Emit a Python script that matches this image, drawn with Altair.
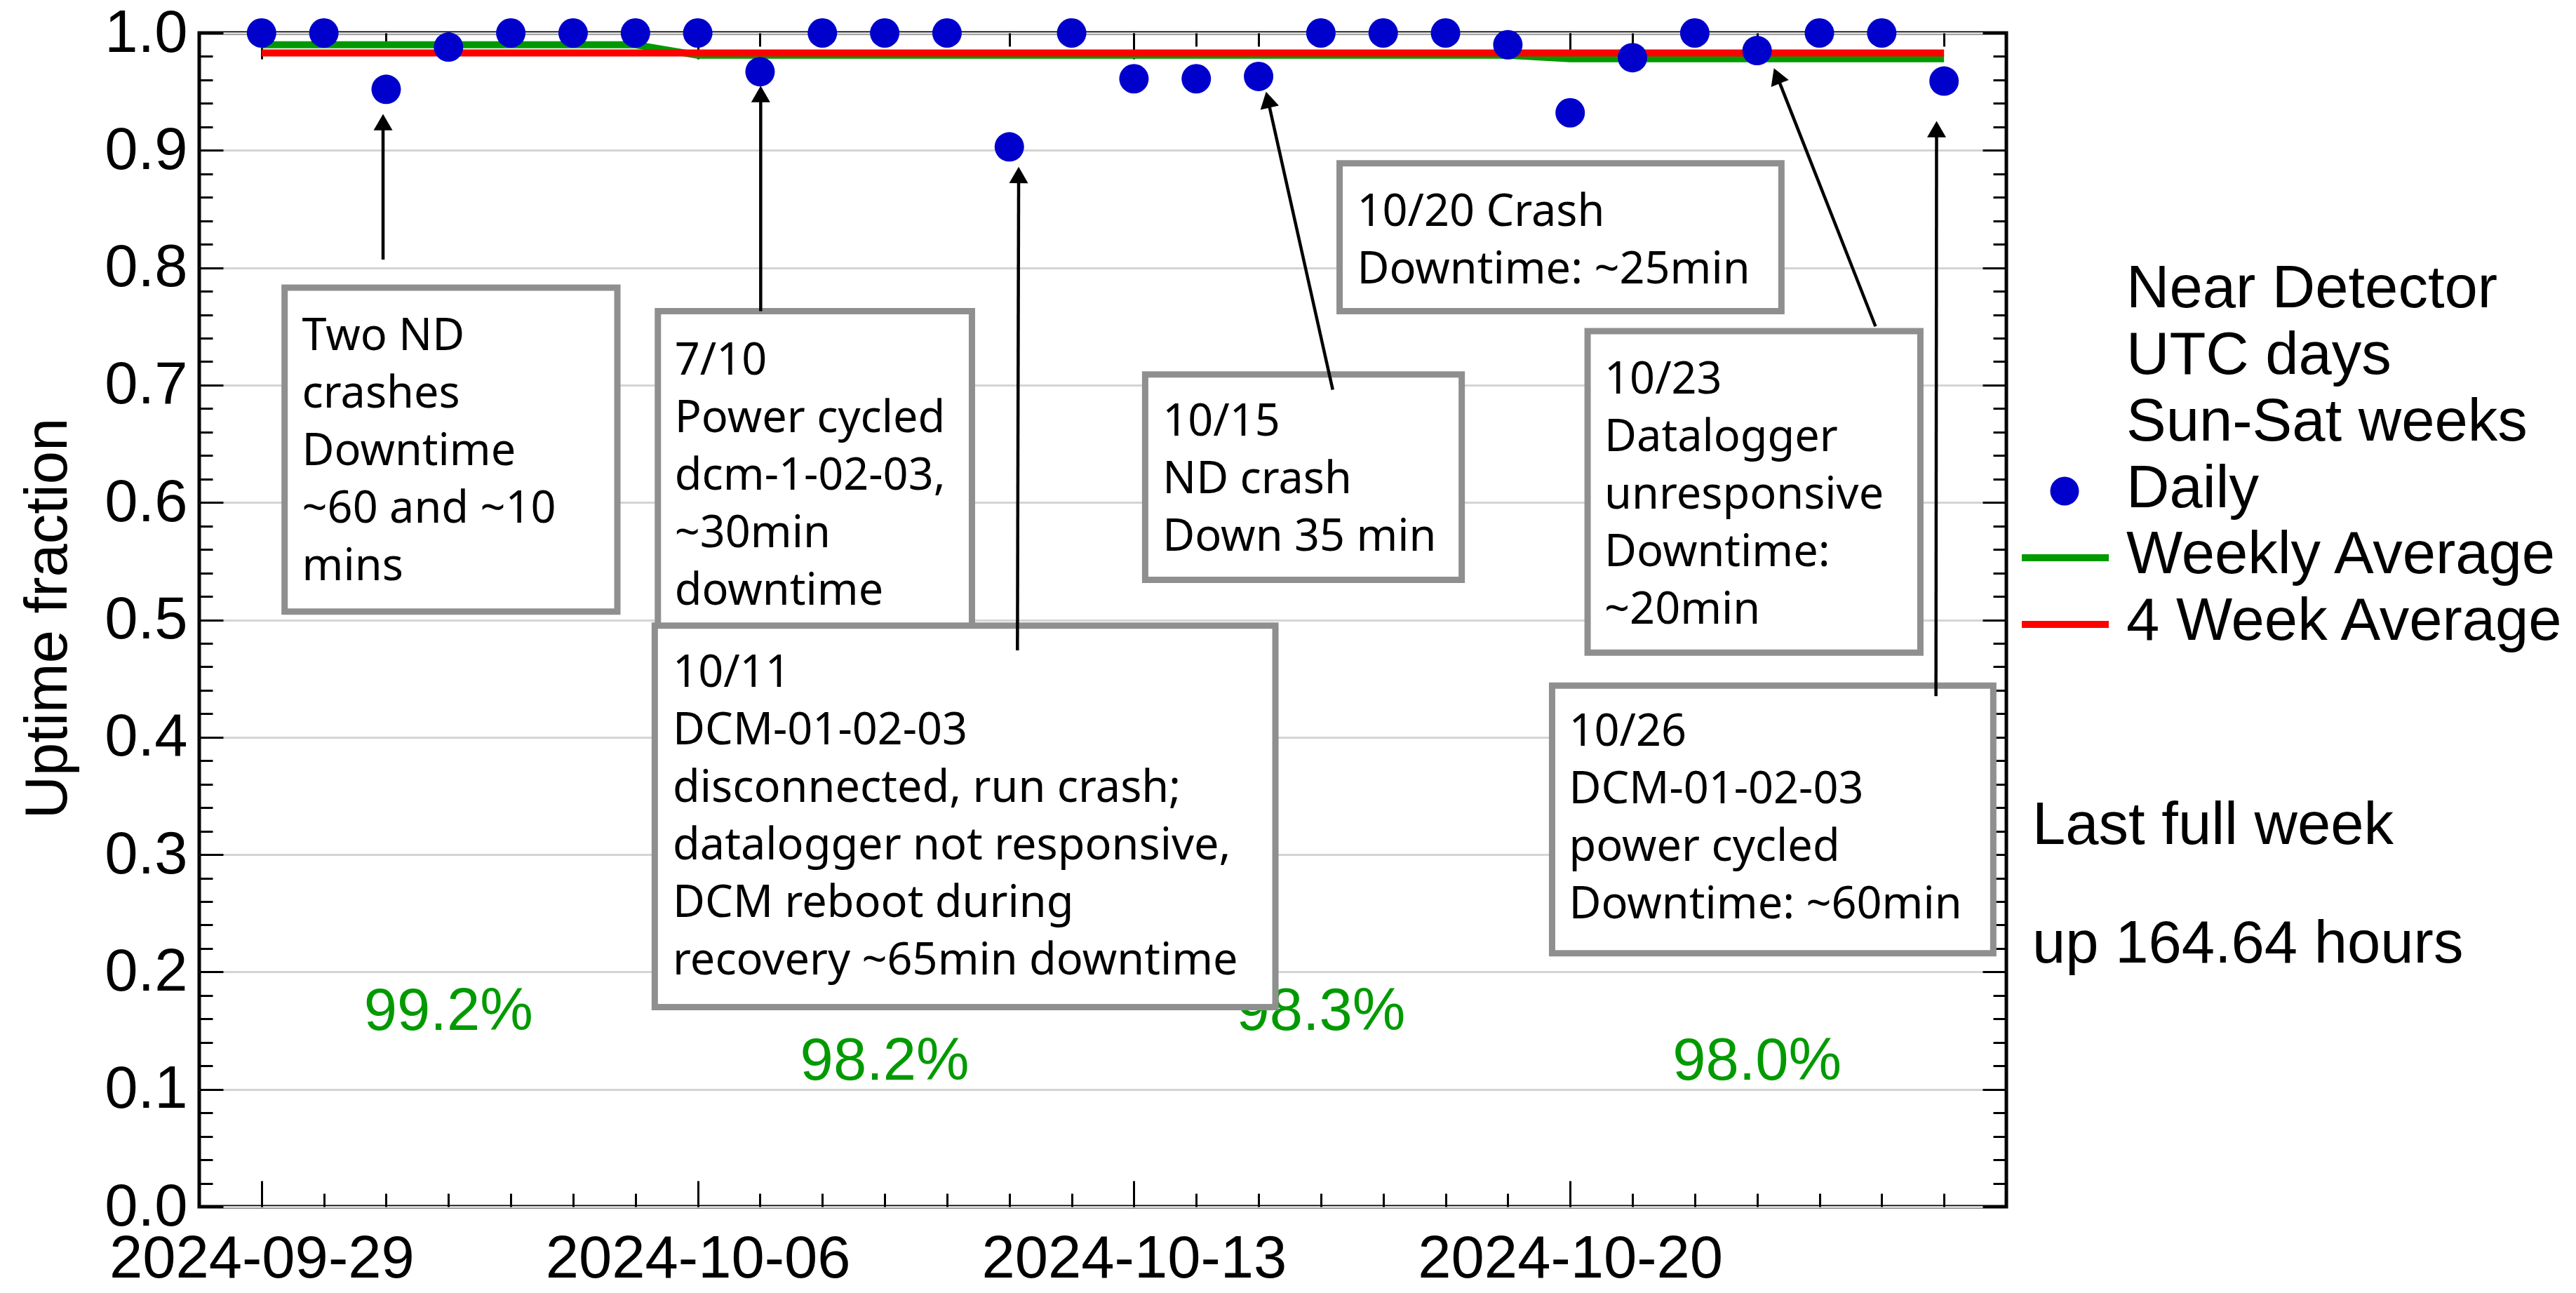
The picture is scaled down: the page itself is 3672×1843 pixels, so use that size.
import math
import altair as alt
import pandas as pd

# ------------------------------------------------------------------ data
day_dates = [d.strftime("%Y-%m-%d") for d in pd.date_range("2024-09-29", "2024-10-26", freq="D")]
daily_uptime = [1.000, 1.000, 0.952, 0.988, 1.000, 1.000, 1.000,
                1.000, 0.967, 1.000, 1.000, 1.000, 0.903, 1.000,
                0.961, 0.961, 0.963, 1.000, 1.000, 1.000, 0.990,
                0.932, 0.979, 1.000, 0.985, 1.000, 1.000, 0.959]
week_start_dates = ["2024-09-29", "2024-10-06", "2024-10-13", "2024-10-20"]
weekly_average = [0.990, 0.981, 0.981, 0.978]
weekly_percent_text = ["99.2%", "98.2%", "98.3%", "98.0%"]
four_week_average = 0.983
y_major_ticks = [0.0, 0.1, 0.2, 0.3, 0.4, 0.5, 0.6, 0.7, 0.8, 0.9, 1.0]
y_minor_ticks = [round(i * 0.02, 2) for i in range(51)]
legend_header = ["Near Detector", "UTC days", "Sun-Sat weeks"]
legend_entries = ["Daily", "Weekly Average", "4 Week Average"]
summary_text = ["Last full week", "up 164.64 hours"]
note_texts = [
    ["Two ND", "crashes", "Downtime", "~60 and ~10", "mins"],
    ["7/10", "Power cycled", "dcm-1-02-03,", "~30min", "downtime"],
    ["10/11", "DCM-01-02-03", "disconnected, run crash;", "datalogger not responsive,",
     "DCM reboot during", "recovery ~65min downtime"],
    ["10/15", "ND crash", "Down 35 min"],
    ["10/20 Crash", "Downtime: ~25min"],
    ["10/23", "Datalogger", "unresponsive", "Downtime:", "~20min"],
    ["10/26", "DCM-01-02-03", "power cycled", "Downtime: ~60min"],
]

# ------------------------------------------------------------------ layout (data coords: days after 2024-09-29, uptime)
note_boxes = [  # x0, x1, y_top, y_bottom, text_x, first_line_y
    (0.37, 5.71, 0.783, 0.507, 0.65, 0.741),
    (6.36, 11.40, 0.763, 0.494, 6.63, 0.720),
    (6.31, 16.27, 0.495, 0.170, 6.60, 0.454),
    (14.18, 19.26, 0.709, 0.534, 14.46, 0.668),
    (17.30, 24.39, 0.889, 0.763, 17.58, 0.847),
    (21.28, 26.62, 0.746, 0.472, 21.55, 0.704),
    (20.71, 27.79, 0.444, 0.216, 20.98, 0.404),
]
note_line_step = 0.049
arrows = [  # tail_day, tail_val, tip_day, tip_val
    (1.95, 0.807, 1.95, 0.931),
    (8.01, 0.763, 8.01, 0.955),
    (12.13, 0.474, 12.15, 0.886),
    (17.19, 0.696, 16.12, 0.950),
    (25.90, 0.750, 24.27, 0.970),
    (26.87, 0.435, 26.88, 0.925),
]
pct_pos = [(3.0, 0.166), (10.0, 0.124), (17.0, 0.166), (24.0, 0.124)]

W, H = 2576, 1673
SANS = "Liberation Sans"
NOTE_FONT = "Noto Sans"
BLUE = "#0000CC"
GREEN = "#009a00"
RED = "#ff0000"

DAY_MS = 86400000
BASE_MS = int(pd.Timestamp("2024-09-29", tz="UTC").value // 10**6)


def ms(day):
    return BASE_MS + day * DAY_MS


def date_ms(s):
    return int(pd.Timestamp(s, tz="UTC").value // 10**6)


XS = alt.Scale(type="utc", domain=[ms(-1), ms(28)])
YS = alt.Scale(domain=[0, 1], nice=False, zero=False)

daily_df = pd.DataFrame({"t": [date_ms(d) for d in day_dates], "v": daily_uptime})
weekly_df = pd.DataFrame({"t": [date_ms(d) for d in day_dates],
                          "v": [weekly_average[i // 7] for i in range(len(day_dates))]})
four_df = pd.DataFrame({"t": [date_ms(day_dates[0]), date_ms(day_dates[-1])],
                        "v": [four_week_average, four_week_average]})
pct_df = pd.DataFrame({"t": [ms(p[0]) for p in pct_pos], "v": [p[1] for p in pct_pos],
                       "label": weekly_percent_text})

box_df = pd.DataFrame({"x0": [ms(b[0]) for b in note_boxes], "x1": [ms(b[1]) for b in note_boxes],
                       "y0": [b[2] for b in note_boxes], "y1": [b[3] for b in note_boxes]})
rows = []
for b, lines in zip(note_boxes, note_texts):
    for i, ln in enumerate(lines):
        rows.append({"t": ms(b[4]), "v": b[5] - i * note_line_step, "label": ln})
note_text_df = pd.DataFrame(rows)

ppd = W / 29.0
ppv = H / 1.0
head_size = 27.0
head_h = head_size / 2 * math.sqrt(3) / 2
shaft_rows, head_rows = [], []
for (td, tv, hd, hv) in arrows:
    dx = (hd - td) * ppd
    dy = -(hv - tv) * ppv
    L = math.hypot(dx, dy)
    ux, uy = dx / L, dy / L
    cd = hd - head_h * ux / ppd
    cv = hv + head_h * uy / ppv
    ang = math.degrees(math.atan2(dx, -dy)) % 360
    shaft_rows.append({"t1": ms(td), "v1": tv, "t2": ms(cd), "v2": cv})
    head_rows.append({"t": ms(cd), "v": cv, "angle": ang})
shaft_df = pd.DataFrame(shaft_rows)
head_df = pd.DataFrame(head_rows)


def X(field="t", axis=None):
    return alt.X(f"{field}:T", scale=XS, axis=axis, title=None)


def Y(field="v", axis=None, title=None):
    return alt.Y(f"{field}:Q", scale=YS, axis=axis, title=title)


def tick_axis(orient, values, size):
    return alt.Axis(orient=orient, values=values, tickSize=size, offset=-size,
                    domain=False, grid=False, labels=False, ticks=True,
                    tickColor="black", tickWidth=3)


major_x = [date_ms(d) for d in week_start_dates]
minor_x = [date_ms(d) for d in day_dates]

main_axes = alt.Chart(daily_df).mark_point(opacity=0).encode(
    x=X(axis=alt.Axis(orient="bottom", values=major_x, tickSize=37, offset=-37,
                      domain=False, grid=False, ticks=True, tickColor="black", tickWidth=3,
                      labels=True, labelExpr="utcFormat(datum.value, '%Y-%m-%d')",
                      labelFont=SANS, labelFontSize=85, labelColor="black",
                      labelPadding=33, labelBaseline="top", labelAlign="center",
                      labelLimit=0, labelFlush=False, labelOverlap=False, labelBound=False)),
    y=Y(title="Uptime fraction",
        axis=alt.Axis(orient="left", values=y_major_ticks, tickSize=34, offset=-34,
                      domain=False, grid=True, gridColor="#d4d4d4", gridWidth=3,
                      ticks=True, tickColor="black", tickWidth=3,
                      labels=True, format=".1f", labelFont=SANS, labelFontSize=85,
                      labelColor="black", labelPadding=17, labelOverlap=False,
                      labelLimit=0, labelFlush=False, labelBound=False,
                      titleFont=SANS, titleFontSize=85, titleFontWeight="normal",
                      titleColor="black", titleAngle=270, titleAlign="center",
                      titleBaseline="alphabetic", titleX=-224, titleY=834, titleLimit=0)),
)
minor_axes = alt.Chart(daily_df).mark_point(opacity=0).encode(
    x=X(axis=tick_axis("bottom", minor_x, 19)),
    y=Y(axis=tick_axis("left", y_minor_ticks, 19)),
)
mirror_major = alt.Chart(daily_df).mark_point(opacity=0).encode(
    x=X(axis=tick_axis("top", major_x, 37)),
    y=Y(axis=tick_axis("right", y_major_ticks, 34)),
)
mirror_minor = alt.Chart(daily_df).mark_point(opacity=0).encode(
    x=X(axis=tick_axis("top", minor_x, 19)),
    y=Y(axis=tick_axis("right", y_minor_ticks, 19)),
)

pct_layer = alt.Chart(pct_df).mark_text(font=SANS, fontSize=85, color=GREEN,
                                        align="center", baseline="middle").encode(
    x=X(), y=Y(), text="label:N")

weekly_layer = alt.Chart(weekly_df).mark_line(color=GREEN, strokeWidth=10).encode(x=X(), y=Y())
four_layer = alt.Chart(four_df).mark_line(color=RED, strokeWidth=10).encode(x=X(), y=Y())
daily_layer = alt.Chart(daily_df).mark_point(filled=True, color=BLUE, size=1764, opacity=1).encode(
    x=X(), y=Y())

box_layer = alt.Chart(box_df).mark_rect(fill="white", stroke="#8f8f8f", strokeWidth=9).encode(
    x=X("x0"), x2="x1:T", y=Y("y0"), y2="y1:Q")
note_layer = alt.Chart(note_text_df).mark_text(font=NOTE_FONT, fontSize=63, color="black",
                                               align="left", baseline="middle").encode(
    x=X(), y=Y(), text="label:N")
shaft_layer = alt.Chart(shaft_df).mark_rule(color="black", strokeWidth=4.5).encode(
    x=X("t1"), x2="t2:T", y=Y("v1"), y2="v2:Q")
head_layer = alt.Chart(head_df).mark_point(shape="triangle-up", filled=True, color="black",
                                           size=head_size ** 2, opacity=1).encode(
    x=X(), y=Y(), angle=alt.Angle("angle:Q", scale=None))

# ---- legend (placed in pixels to the right of the frame)
legend_layers = []
text_x = 2747
header_y = [365, 460, 555]
for txt, yy in zip(legend_header, header_y):
    legend_layers.append(alt.Chart(pd.DataFrame({"label": [txt]})).mark_text(
        font=SANS, fontSize=85, color="black", align="left", baseline="middle").encode(
        text="label:N", x=alt.value(text_x), y=alt.value(yy)))
entry_y = [650, 744, 839]
for txt, yy in zip(legend_entries, entry_y):
    legend_layers.append(alt.Chart(pd.DataFrame({"label": [txt]})).mark_text(
        font=SANS, fontSize=85, color="black", align="left", baseline="middle").encode(
        text="label:N", x=alt.value(text_x), y=alt.value(yy)))
legend_layers.append(alt.Chart(pd.DataFrame({"k": [legend_entries[0]]})).mark_point(
    filled=True, color=BLUE, size=1681, opacity=1).encode(
    x=alt.value(2659), y=alt.value(entry_y[0] + 3)))
for k, col, yy in zip(legend_entries[1:], [GREEN, RED], entry_y[1:]):
    legend_layers.append(alt.Chart(pd.DataFrame({"k": [k]})).mark_rule(
        color=col, strokeWidth=10).encode(
        x=alt.value(2598), x2=alt.value(2722), y=alt.value(yy + 4)))
for txt, yy in zip(summary_text, [1130, 1299]):
    legend_layers.append(alt.Chart(pd.DataFrame({"label": [txt]})).mark_text(
        font=SANS, fontSize=85, color="black", align="left", baseline="middle").encode(
        text="label:N", x=alt.value(2613), y=alt.value(yy)))

chart = alt.layer(
    main_axes, minor_axes, mirror_major, mirror_minor,
    pct_layer, weekly_layer, four_layer, daily_layer,
    box_layer, note_layer, shaft_layer, head_layer,
    *legend_layers,
).resolve_axis(x="independent", y="independent").properties(
    width=W, height=H,
    autosize=alt.AutoSizeParams(type="none"),
    padding={"left": 276, "top": 39, "right": 800, "bottom": 120},
    background="white",
).configure_view(stroke="black", strokeWidth=5)

chart.save("out.html", embed_options={"renderer": "svg", "actions": False})
